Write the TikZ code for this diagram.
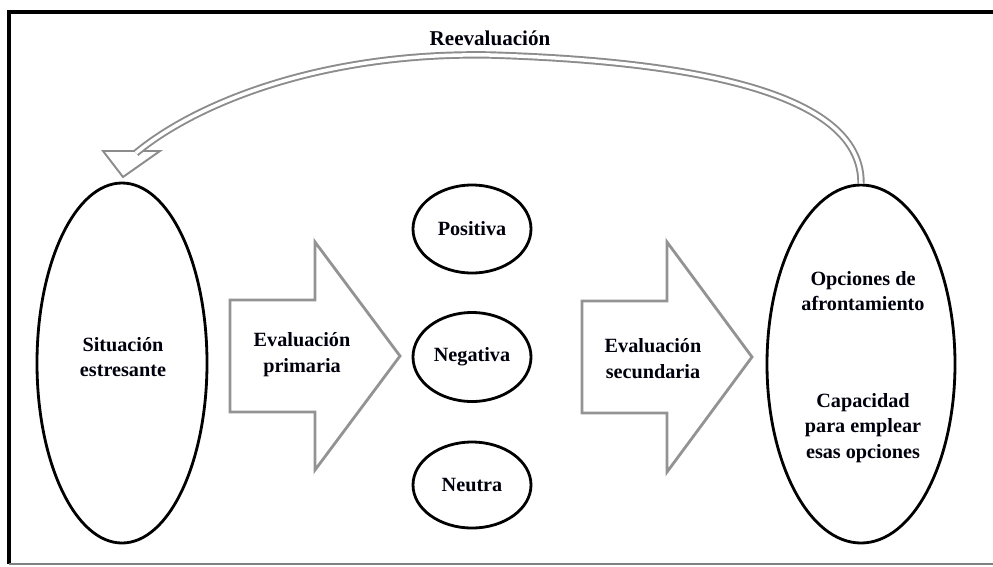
\documentclass[tikz,border=0pt]{standalone}
\usepackage{fontspec}
\setmainfont{Liberation Serif}
\usetikzlibrary{shapes.geometric}

\begin{document}
\begin{tikzpicture}[x=0.2mm,y=-0.2mm,
  elli/.style={draw,ellipse,line width=1.6pt,inner sep=0pt},
  bigarrow/.style={draw=gray!85,line width=1.6pt,line join=miter},
  txt/.style={align=center,font=\bfseries\fontsize{11.5}{14.7}\selectfont,text=black!95!blue}]
\useasboundingbox (0,0) rectangle (993,566);
% frame
\draw[line width=2.2pt] (993,12) -- (9,12) -- (9,564);
\draw[gray,line width=0.6pt] (9,564) -- (993,564);

% ellipses
\node[elli,minimum width=3.4cm,minimum height=7.2cm] (sit) at (122,363) {};
\node[txt] (sittxt) at (123,357) {Situación\\estresante};
\node[elli,minimum width=3.76cm,minimum height=7.16cm] (opc) at (861,364) {};
\node[txt] (opctxt) at (863,291) {Opciones de\\afrontamiento};
\node[txt] (captxt) at (863,428) {Capacidad\\para emplear\\esas opciones};
\node[elli,txt,minimum width=2.36cm,minimum height=1.76cm] (pos) at (472,229) {Positiva};
\node[elli,txt,minimum width=2.36cm,minimum height=1.78cm] (neg) at (472,357) {Negativa};
\node[elli,txt,minimum width=2.36cm,minimum height=1.72cm] (neu) at (472,485) {Neutra};

% block arrows
\draw[bigarrow] (230,300) -- (315,300) -- (315,242) -- (400,356) -- (315,470) -- (315,412) -- (230,412) -- cycle;
\node[txt] (prim) at (302,355) {Evaluación\\primaria};
\draw[bigarrow] (582,301) -- (667,301) -- (667,242) -- (752,357) -- (667,472) -- (667,413) -- (582,413) -- cycle;
\node[txt] (sec) at (653,359) {Evaluación\\secundaria};

% reevaluacion
\coordinate (tip) at (123,177);
\draw[gray!90,fill=white,line width=1.1pt,line join=miter] (103,151) -- (tip) -- (160,151) -- cycle;
\draw[gray!90,line width=1.1pt,double=white,double distance=2pt] (opc.north) .. controls (862,100) and (720,62) .. (490,55) .. controls (320,52) and (195,104) .. (136,153);
\node[txt,font=\bfseries\fontsize{12}{14}\selectfont] (reev) at (490,38) {Reevaluación};
\end{tikzpicture}
\end{document}
